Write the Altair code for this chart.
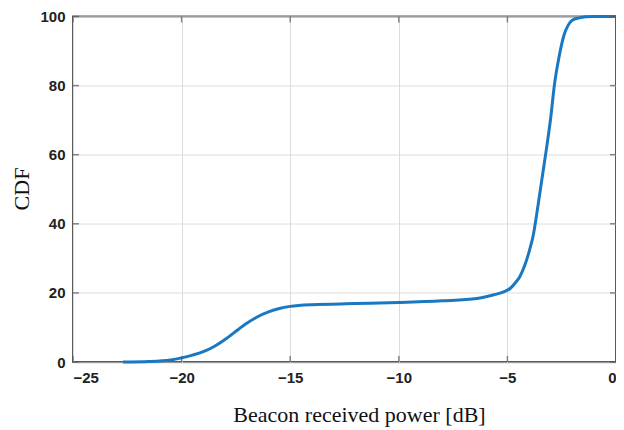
import altair as alt
import pandas as pd

power_db = [-22.7, -21.5, -20.5, -20.0, -19.5, -19.0, -18.5, -18.0, -17.5, -17.0,
            -16.5, -16.0, -15.5, -15.0, -14.0, -12.0, -10.0, -8.0, -6.4, -5.66,
            -5.2, -4.89, -4.65, -4.43, -4.2, -3.98, -3.8, -3.67, -3.44, -3.21,
            -3.0, -2.84, -2.6, -2.4, -2.2, -2.0, -1.7, -1.4, -1.0, -0.5, 0.0]
cdf_pct = [0.0, 0.15, 0.6, 1.2, 2.0, 3.0, 4.5, 6.5, 8.9, 11.2,
           13.1, 14.5, 15.5, 16.1, 16.6, 16.9, 17.2, 17.7, 18.4, 19.4,
           20.2, 21.2, 22.8, 24.7, 28.0, 32.4, 37.0, 42.0, 51.7, 61.4,
           71.0, 80.0, 89.0, 94.5, 97.5, 99.0, 99.6, 99.9, 100.0, 100.0, 100.0]

x_ticks = [-25, -20, -15, -10, -5, 0]
y_ticks = [0, 20, 40, 60, 80, 100]

df = pd.DataFrame({"x": power_db, "y": cdf_pct})
xt = pd.DataFrame({"x": x_ticks})
yt = pd.DataFrame({"y": y_ticks})

LABEL_FONT = "Liberation Sans Narrow, Arial Narrow, Liberation Sans, Arial, sans-serif"
TITLE_FONT = "Liberation Serif, Times New Roman, serif"

W = 543
H = 345.5

xscale = alt.Scale(domain=[-25, 0], nice=False, zero=False)
yscale = alt.Scale(domain=[0, 100], nice=False)

xaxis = alt.Axis(values=x_ticks, grid=True, gridColor="#dcdcdc", gridWidth=1,
                 domain=False, ticks=False, labelFont=LABEL_FONT, labelFontWeight="bold",
                 labelFontSize=15, labelColor="#222", labelPadding=8,
                 title="Beacon received power [dB]", titleFont=TITLE_FONT,
                 titleFontWeight="normal", titleFontSize=22, titleColor="#111",
                 titleX=286, titleY=59, titleBaseline="alphabetic", titleAlign="center")
yaxis = alt.Axis(values=y_ticks, grid=True, gridColor="#dcdcdc", gridWidth=1,
                 domain=False, ticks=False, labelFont=LABEL_FONT, labelFontWeight="bold",
                 labelFontSize=15, labelColor="#222", labelPadding=8,
                 title="CDF", titleFont=TITLE_FONT, titleFontWeight="normal",
                 titleFontSize=22, titleColor="#111", titleX=-52, titleY=172,
                 titleBaseline="middle", titleAlign="center", titleAngle=-90)

line = alt.Chart(df).mark_line(color="#1a78c2", strokeWidth=3, interpolate="monotone").encode(
    x=alt.X("x:Q", scale=xscale, axis=xaxis),
    y=alt.Y("y:Q", scale=yscale, axis=yaxis),
)

tick_color = "#555"
bottom_ticks = alt.Chart(xt).mark_tick(orient="vertical", size=6, yOffset=-3, color=tick_color, thickness=1.5).encode(
    x=alt.X("x:Q", scale=xscale), y=alt.value(H))
top_ticks = alt.Chart(xt).mark_tick(orient="vertical", size=6, yOffset=3, color=tick_color, thickness=1.5).encode(
    x=alt.X("x:Q", scale=xscale), y=alt.value(0))
left_ticks = alt.Chart(yt).mark_tick(orient="horizontal", size=6, xOffset=3, color=tick_color, thickness=1.5).encode(
    y=alt.Y("y:Q", scale=yscale), x=alt.value(0))
right_ticks = alt.Chart(yt).mark_tick(orient="horizontal", size=6, xOffset=-3, color=tick_color, thickness=1.5).encode(
    y=alt.Y("y:Q", scale=yscale), x=alt.value(W))

chart = alt.layer(line, bottom_ticks, top_ticks, left_ticks, right_ticks).properties(
    width=W, height=H,
    autosize=alt.AutoSizeParams(type="none"),
    padding={"left": 65, "top": 8.5, "right": 0, "bottom": 66},
    background="white",
).configure_view(stroke="#5a5a5a", strokeWidth=2)

chart.save("out.html", embed_options={"renderer": "svg", "actions": False})
